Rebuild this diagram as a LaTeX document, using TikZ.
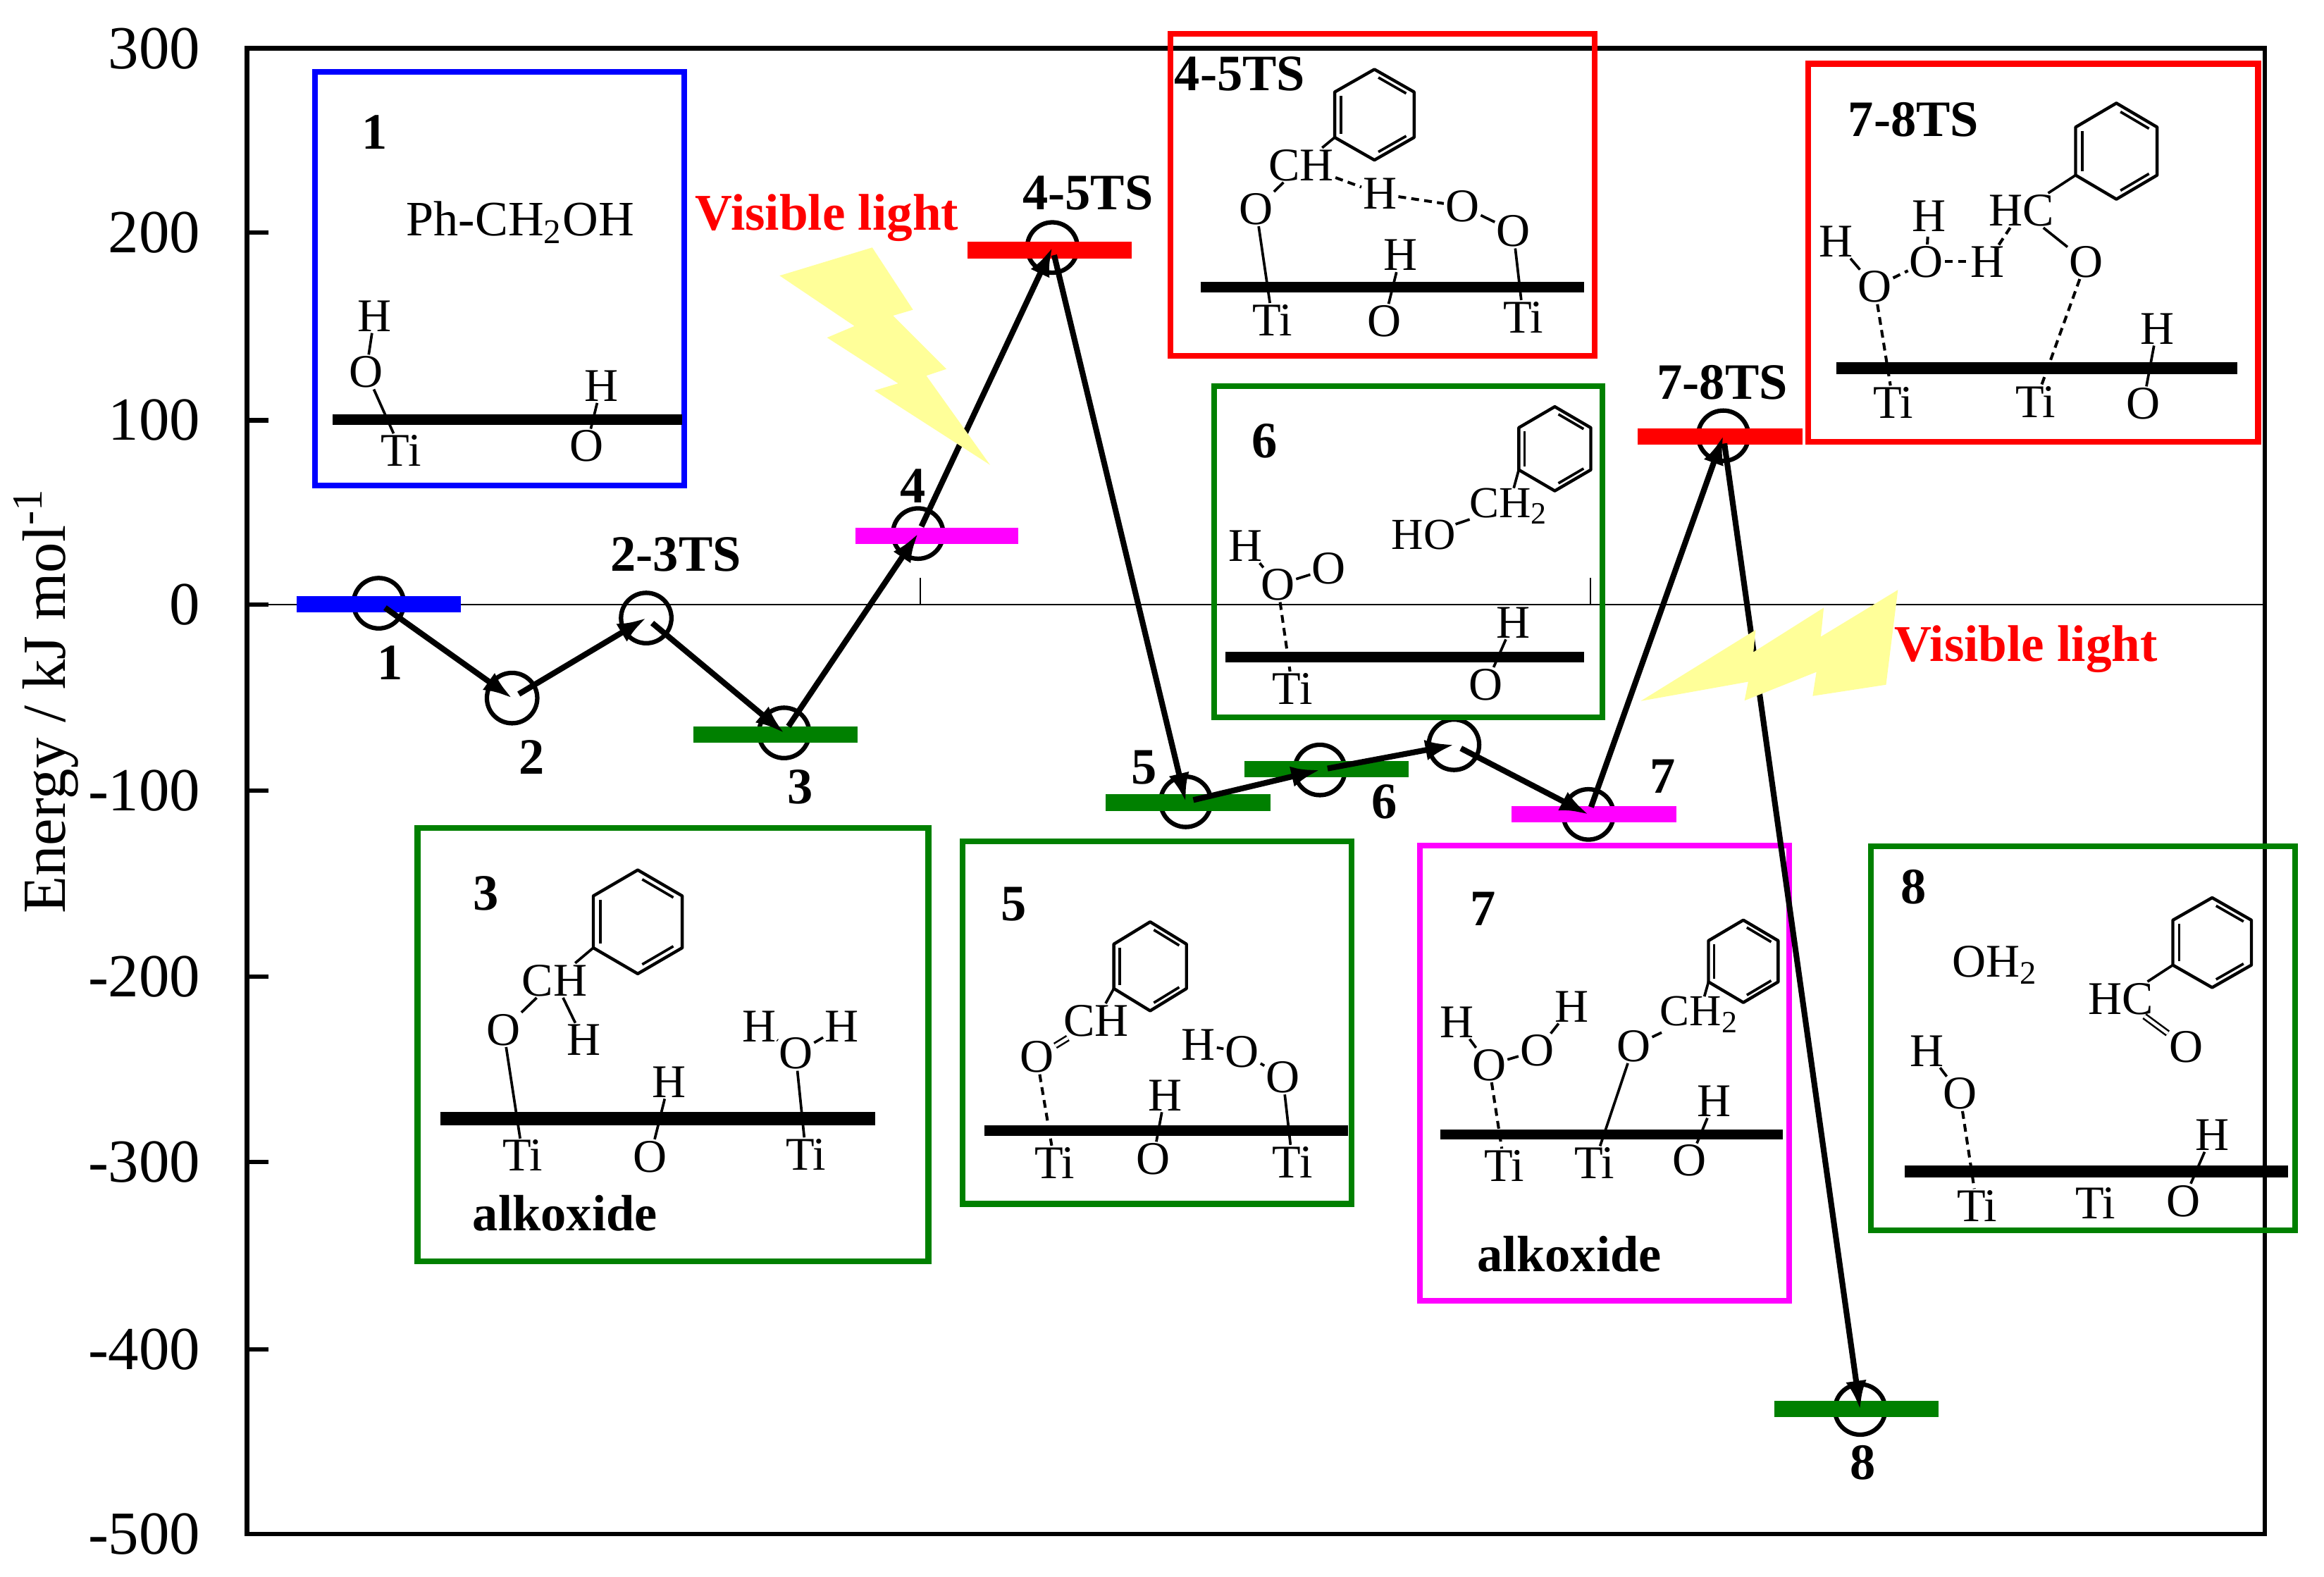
\documentclass[tikz,border=0pt]{standalone}
\usepackage{fontspec}
\setmainfont{Liberation Serif}
\usetikzlibrary{arrows.meta}
\definecolor{darkgrn}{RGB}{0,128,0}
\definecolor{puremag}{RGB}{255,0,255}
\definecolor{boltyel}{RGB}{255,255,153}
\tikzset{
  atom/.style={inner sep=0.6pt,outer sep=0pt,font=\fontsize{18}{18}\selectfont},
  atomsub/.style={inner sep=0pt,font=\fontsize{17}{17}\selectfont},
  boxnum/.style={inner sep=0.6pt,outer sep=0pt,font=\fontsize{19.6}{19.6}\selectfont\bfseries},
  ticklab/.style={anchor=east,inner sep=0pt,font=\fontsize{23.5}{23.5}\selectfont},
  lightlab/.style={inner sep=0pt,text=red,font=\fontsize{19.8}{19.8}\selectfont\bfseries},
  statering/.style={circle,draw,line width=1.7pt,minimum size=0.68cm,inner sep=0pt,outer sep=0pt},
  levelbar/.style={line width=0.22cm},
  panel/.style={line width=2.2pt},
  surface/.style={line width=0.14cm},
  bond/.style={line width=1pt},
  dbond/.style={line width=1.1pt,dash pattern=on 3pt off 2pt},
  flow/.style={line width=2.2pt,-{Latex[length=11pt,width=8pt]}},
  bolt/.style={fill=boltyel,draw=none}
}
\newcommand{\phenyl}[5]{
  \coordinate (#1) at (#2-#4,#3+0.5*#5);
  \draw[line width=1.2pt,line join=round] (#2,#3-#5) -- (#2+#4,#3-0.5*#5) -- (#2+#4,#3+0.5*#5) -- (#2,#3+#5)
    -- (#2-#4,#3+0.5*#5) -- (#2-#4,#3-0.5*#5) -- cycle;
  \draw[bond] (#2-0.84*#4,#3-0.42*#5) -- (#2-0.84*#4,#3+0.42*#5);
  \draw[bond] (#2+0.1*#4,#3-0.82*#5) -- (#2+0.8*#4,#3-0.47*#5);
  \draw[bond] (#2+0.1*#4,#3+0.82*#5) -- (#2+0.8*#4,#3+0.47*#5);
}
\begin{document}
\begin{tikzpicture}[x=0.02cm,y=-0.02cm]
  \useasboundingbox (0,0) rectangle (1568,1064);
  % axes
  \draw[line width=1.7pt] (166.6,32.6) rectangle (1528,1035);
  \draw[line width=0.4pt] (166.6,408) -- (1528,408);
  \draw[line width=0.4pt] (621,390) -- (621,408);
  \draw[line width=0.4pt] (1073,390) -- (1073,408);
  \draw[line width=1.7pt] (166.6,157) -- (181,157);
  \draw[line width=1.7pt] (166.6,283.6) -- (181,283.6);
  \draw[line width=1.7pt] (166.6,408) -- (181,408);
  \draw[line width=1.7pt] (166.6,533.5) -- (181,533.5);
  \draw[line width=1.7pt] (166.6,659) -- (181,659);
  \draw[line width=1.7pt] (166.6,784) -- (181,784);
  \draw[line width=1.7pt] (166.6,910.5) -- (181,910.5);
  \draw
    (135.5,32.6) node[ticklab] (y300){300}
    (135.5,157) node[ticklab] (y200){200}
    (135.5,283.6) node[ticklab] (y100){100}
    (135.5,408) node[ticklab] (y0){0}
    (135.5,533.5) node[ticklab] (ym100){-100}
    (135.5,659) node[ticklab] (ym200){-200}
    (135.5,784) node[ticklab] (ym300){-300}
    (135.5,910.5) node[ticklab] (ym400){-400}
    (135.5,1035) node[ticklab] (ym500){-500};
  \node[rotate=90,inner sep=0pt,font=\fontsize{23.5}{23.5}\selectfont] (ylab) at (31,473) {Energy / kJ mol\textsuperscript{-1}};
  % states
  \draw
    (255.5,407) node[statering] (s1){}
    (345.5,471) node[statering] (s2){}
    (436,417) node[statering] (s3){}
    (529,494.5) node[statering] (s4){}
    (619.4,360) node[statering] (s5){}
    (710,167) node[statering] (s6){}
    (800,541) node[statering] (s7){}
    (890.5,519.5) node[statering] (s8){}
    (981,502.5) node[statering] (s9){}
    (1071.7,549.5) node[statering] (s10){}
    (1162.7,294) node[statering] (s11){}
    (1255,951) node[statering] (s12){};
  \draw[levelbar,blue] (200,407.5) -- (311,407.5);
  \draw[levelbar,darkgrn] (468,495.5) -- (578.5,495.5);
  \draw[levelbar,puremag] (577,361.5) -- (687,361.5);
  \draw[levelbar,red] (653,168.8) -- (763.5,168.8);
  \draw[levelbar,darkgrn] (746,541.5) -- (857,541.5);
  \draw[levelbar,darkgrn] (839.5,519) -- (950.5,519);
  \draw[levelbar,puremag] (1020,549.2) -- (1131,549.2);
  \draw[levelbar,red] (1105,294.5) -- (1216,294.5);
  \draw[levelbar,darkgrn] (1197,950.5) -- (1308,950.5);
  % panels
  \draw[panel,blue] (212.6,48.6) rectangle (461.8,327.7);
  \draw[panel,darkgrn] (281.7,558.6) rectangle (626.4,851);
  \draw[panel,darkgrn] (649.4,567.5) rectangle (912,812.3);
  \draw[panel,puremag] (958,570.5) rectangle (1207.3,877.5);
  \draw[panel,darkgrn] (1262.3,570.9) rectangle (1548.5,830);
  \draw[panel,red] (789.5,23) rectangle (1076,240);
  \draw[panel,darkgrn] (819,260.5) rectangle (1081,484);
  \draw[panel,red] (1220,43) rectangle (1523.5,298);
  % path
  \begin{scope}[flow,shorten <=3pt]
    \draw (s1.center) to (s2.center);
    \draw (s2.center) to (s3.center);
    \draw (s3.center) to (s4.center);
    \draw (s4.center) to (s5.center);
    \draw (s5.center) to (s6.center);
    \draw (s6.center) to (s7.center);
    \draw (s7.center) to (s8.center);
    \draw (s8.center) to (s9.center);
    \draw (s9.center) to (s10.center);
    \draw (s10.center) to (s11.center);
    \draw (s11.center) to (s12.center);
  \end{scope}
  % labels on the curve
  \begin{scope}[every node/.style={boxnum}]
    \draw
      (263,447) node (l1){1}
      (359,511) node (l2){2}
      (456,374) node (l23){2-3TS}
      (540,531) node (l3){3}
      (616,328) node (l4){4}
      (734,130) node (l45){4-5TS}
      (772,518) node (l5){5}
      (934,541) node (l6){6}
      (1122,524) node (l7){7}
      (1162,258) node (l78){7-8TS}
      (1257,987) node (l8){8};
  \end{scope}
  % light
  \fill[bolt] (526,186) -- (588.5,167) -- (616,209) -- (602.5,213) -- (638.5,249) -- (625,253.5) -- (668,313.7)
    -- (590,263.5) -- (606,258.7) -- (558,227.8) -- (576.5,220) -- cycle;
  \fill[bolt] (1107,473) -- (1184.5,425) -- (1183,440) -- (1230.5,410) -- (1228.5,429.6) -- (1280.5,398)
    -- (1272.5,462) -- (1223,469.6) -- (1225.5,453.4) -- (1177,472.7) -- (1179.5,460) -- cycle;
  \node[lightlab] (vis1) at (558,147) {Visible light};
  \node[lightlab] (vis2) at (1367,438) {Visible light};
  % panel 1
  \node[boxnum] (n1) at (252.7,89) {1};
  \begin{scope}[every node/.style={atom}]
    \draw
      (351,150) node[font=\fontsize{19}{19}\selectfont] (a1ph){Ph-CH\textsubscript{2}OH}
      (252.7,213.3) node (a1h){H}
      (247,251) node (a1o){O}
      (270.7,304) node (a1ti){Ti}
      (405.7,260.5) node (a1hb){H}
      (395.7,301) node (a1ob){O};
  \end{scope}
  \draw[surface] (224.6,283) -- (460,283);
  \begin{scope}[bond]
    \draw (a1h) to (a1o);
    \draw (a1o) to (a1ti);
    \draw (a1hb) to (a1ob);
  \end{scope}
  % panel 3
  \node[boxnum] (n3) at (327.7,603) {3};
  \node[boxnum] (alk3) at (381.2,818.8) {alkoxide};
  \phenyl{r3}{430.3}{622}{30}{35}
  \begin{scope}[every node/.style={atom}]
    \draw
      (374.2,661.5) node (a3ch){CH}
      (339.7,694.8) node (a3o){O}
      (393.7,701.6) node (a3h){H}
      (451.3,730) node (a3hb){H}
      (512.3,692.8) node (a3hl){H}
      (536.8,710.8) node (a3ow){O}
      (567.8,692.8) node (a3hr){H}
      (352.7,779.7) node (a3ti){Ti}
      (438.8,780.4) node (a3ob){O}
      (543.8,779) node (a3tib){Ti};
  \end{scope}
  \draw[surface,line width=0.18cm] (297,754.6) -- (590.4,754.6);
  \begin{scope}[bond]
    \draw (a3ch) to (r3);
    \draw (a3o) to (a3ch);
    \draw (a3ch) to (a3h);
    \draw (a3o) to (a3ti);
    \draw (a3hb) to (a3ob);
    \draw (a3ow) to (a3tib);
    \draw (a3hl) to (a3ow);
    \draw (a3ow) to (a3hr);
  \end{scope}
  % panel 5
  \node[boxnum] (n5) at (684,610) {5};
  \phenyl{r5}{776}{652}{24.5}{30}
  \begin{scope}[every node/.style={atom}]
    \draw
      (739.5,688.7) node (a5ch){CH}
      (699.5,713.2) node (a5o){O}
      (786,739) node (a5h){H}
      (808.5,704.7) node (a5hb){H}
      (838,709.8) node (a5oa){O}
      (865.5,726.8) node (a5ob){O}
      (711.5,784.5) node (a5ti){Ti}
      (778,782) node (a5oc){O}
      (872,784) node (a5tib){Ti};
  \end{scope}
  \draw[surface] (664,763) -- (909.6,763);
  \begin{scope}[bond]
    \draw (a5ch) to (r5);
    \draw[double,double distance=1.2pt,line width=0.7pt] (a5o) to (a5ch);
    \draw (a5h) to (a5oc);
    \draw (a5hb) to (a5oa);
    \draw (a5oa) to (a5ob);
    \draw (a5ob) to (a5tib);
    \draw[dbond] (a5o) to (a5ti);
  \end{scope}
  % panel 7
  \node[boxnum] (n7) at (1000.6,613.3) {7};
  \node[boxnum] (alk7) at (1058.7,846) {alkoxide};
  \phenyl{r7}{1176.2}{648.6}{23.5}{27.8}
  \begin{scope}[every node/.style={atom}]
    \draw
      (1146.5,684.5) node[atomsub] (a7ch){CH\textsubscript{2}}
      (1102.2,705.7) node (a7o){O}
      (1037,709) node (a7ob){O}
      (1004.6,718.6) node (a7oa){O}
      (983,689.7) node (a7ha){H}
      (1060.6,679.2) node (a7hb){H}
      (1015,786.5) node (a7ti){Ti}
      (1075.7,784.8) node (a7tib){Ti}
      (1140,783.1) node (a7oc){O}
      (1156.7,743) node (a7hc){H};
  \end{scope}
  \draw[surface] (971.6,765.5) -- (1203,765.5);
  \begin{scope}[bond]
    \draw (a7ch) to (r7);
    \draw (a7o) to (a7ch);
    \draw (a7o) to (a7tib);
    \draw (a7ha) to (a7oa);
    \draw (a7oa) to (a7ob);
    \draw (a7ob) to (a7hb);
    \draw (a7hc) to (a7oc);
    \draw[dbond] (a7oa) to (a7ti);
  \end{scope}
  % panel 8
  \node[boxnum] (n8) at (1291.3,598.7) {8};
  \phenyl{r8}{1492.5}{636}{26.5}{30.3}
  \begin{scope}[every node/.style={atom}]
    \draw
      (1345.8,651) node (a8w){OH\textsubscript{2}}
      (1431,674) node (a8hc){HC}
      (1475,706.4) node (a8o){O}
      (1300.3,709) node (a8h){H}
      (1322.3,738) node (a8oa){O}
      (1333.8,813.7) node (a8ti){Ti}
      (1413.8,812) node (a8tib){Ti}
      (1473,810.3) node (a8ob){O}
      (1492.4,765.8) node (a8hb){H};
  \end{scope}
  \draw[surface,line width=0.16cm] (1285,790.6) -- (1543.5,790.6);
  \begin{scope}[bond]
    \draw (a8hc) to (r8);
    \draw[double,double distance=1.2pt,line width=0.7pt] (a8hc) to (a8o);
    \draw (a8h) to (a8oa);
    \draw (a8hb) to (a8ob);
    \draw[dbond] (a8oa) to (a8ti);
  \end{scope}
  % panel 4-5TS
  \node[boxnum,fill=white] (n45) at (836.5,50) {4-5TS};
  \phenyl{r45}{927.3}{77.4}{26.8}{30.6}
  \begin{scope}[every node/.style={atom}]
    \draw
      (878,111.4) node (b4ch){CH}
      (847.5,141) node (b4o){O}
      (931,130.8) node (b4h){H}
      (986.6,139.2) node (b4oa){O}
      (1021,155.9) node (b4ob){O}
      (945,172.2) node (b4hb){H}
      (858.5,216) node (b4ti){Ti}
      (934,216.7) node (b4oc){O}
      (1027.7,214) node (b4tib){Ti};
  \end{scope}
  \draw[surface] (810,193.6) -- (1068.7,193.6);
  \begin{scope}[bond]
    \draw (b4ch) to (r45);
    \draw (b4o) to (b4ch);
    \draw (b4o) to (b4ti);
    \draw (b4oa) to (b4ob);
    \draw (b4ob) to (b4tib);
    \draw (b4hb) to (b4oc);
    \draw[dbond] (b4ch) to (b4h);
    \draw[dbond] (b4h) to (b4oa);
  \end{scope}
  % panel 6
  \node[boxnum] (n6) at (853,297.8) {6};
  \phenyl{r6}{1049}{302.8}{24.3}{28.4}
  \begin{scope}[every node/.style={atom}]
    \draw
      (1018,341.5) node[atomsub] (a6ch){CH\textsubscript{2}}
      (960.5,361) node[atomsub] (a6ho){HO}
      (840.5,368.5) node (a6h){H}
      (862,394.6) node (a6o){O}
      (896.5,383.8) node (a6ob){O}
      (1021,420) node (a6hb){H}
      (872,464.6) node (a6ti){Ti}
      (1002.6,461.9) node (a6oc){O};
  \end{scope}
  \draw[surface] (827,443.5) -- (1069,443.5);
  \begin{scope}[bond]
    \draw (a6ch) to (r6);
    \draw (a6ho) to (a6ch);
    \draw (a6h) to (a6o);
    \draw (a6o) to (a6ob);
    \draw (a6hb) to (a6oc);
    \draw[dbond] (a6o) to (a6ti);
  \end{scope}
  % panel 7-8TS
  \node[boxnum] (n78) at (1291,80.5) {7-8TS};
  \phenyl{r78}{1427.9}{102}{27.5}{32.4}
  \begin{scope}[every node/.style={atom}]
    \draw
      (1364,142) node (b7hc){HC}
      (1407.4,176.6) node (b7o){O}
      (1238.8,163) node (b7h){H}
      (1264.8,193.6) node (b7oa){O}
      (1299.8,176.6) node (b7ob){O}
      (1301.3,146) node (b7hb){H}
      (1341,176.6) node (b7hd){H}
      (1277.3,271.7) node (b7ti){Ti}
      (1373.4,271) node (b7tib){Ti}
      (1446,272.4) node (b7oc){O}
      (1455.4,221.8) node (b7he){H};
  \end{scope}
  \draw[surface,line width=0.16cm] (1238.8,248.3) -- (1509.4,248.3);
  \begin{scope}[bond]
    \draw (b7hc) to (r78);
    \draw (b7hc) to (b7o);
    \draw (b7h) to (b7oa);
    \draw (b7he) to (b7oc);
    \draw[dbond] (b7oa) to (b7ob);
    \draw[dbond] (b7ob) to (b7hb);
    \draw[dbond] (b7ob) to (b7hd);
    \draw[dbond] (b7hd) to (b7hc);
    \draw[dbond] (b7oa) to (b7ti);
    \draw[dbond] (b7o) to (b7tib);
  \end{scope}
\end{tikzpicture}
\end{document}
